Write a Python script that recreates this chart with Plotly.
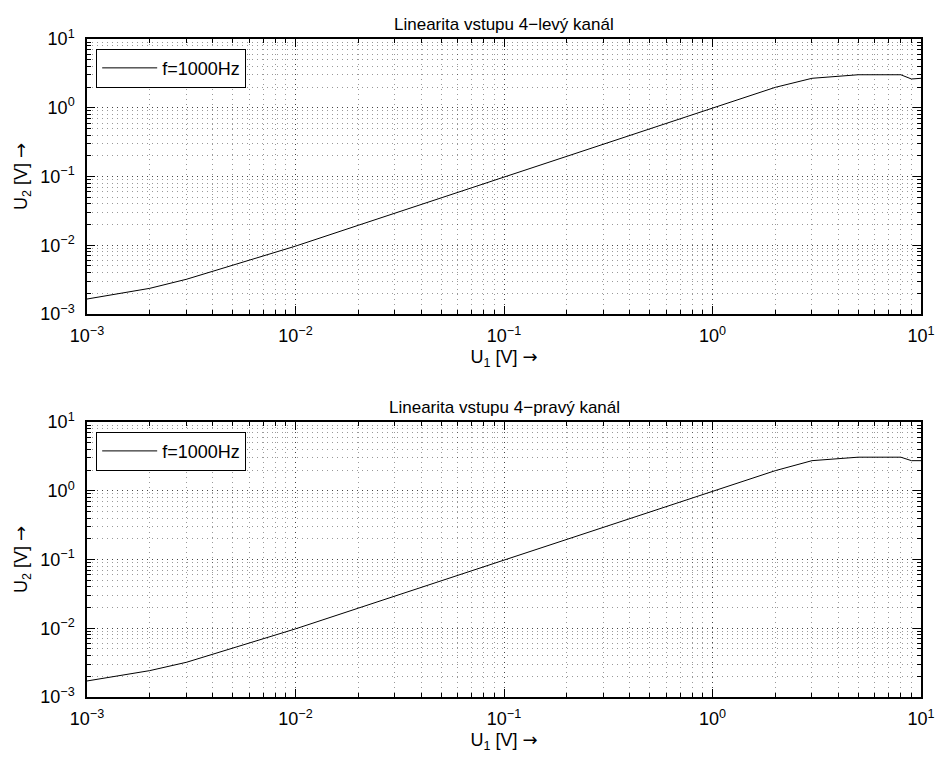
import plotly.graph_objects as go
from plotly.subplots import make_subplots

# Data
u1 = [0.001, 0.002, 0.003, 0.005, 0.01, 0.02, 0.05, 0.1, 0.2, 0.5, 1, 2, 3, 5, 8, 9, 10]
u2_left = [0.00165, 0.00236, 0.0032, 0.0051, 0.0097, 0.0195, 0.049, 0.098, 0.196, 0.49, 0.98, 1.98, 2.68, 3.02, 3.02, 2.62, 2.68]
u2_right = [0.00171, 0.00242, 0.0032, 0.0051, 0.0098, 0.0196, 0.049, 0.098, 0.196, 0.49, 0.98, 1.96, 2.74, 3.08, 3.08, 2.74, 2.74]
titles = ["Linearita vstupu 4\u2212levý kanál", "Linearita vstupu 4\u2212pravý kanál"]
legend_label = "f=1000Hz"
tick_vals = [0.001, 0.01, 0.1, 1, 10]
tick_text = ["10<sup>\u22123</sup>", "10<sup>\u22122</sup>", "10<sup>\u22121</sup>", "10<sup>0</sup>", "10<sup>1</sup>"]

FONT = "Liberation Sans, Arial, Helvetica, sans-serif"
ARROW = '<span style="font-family:DejaVu Sans">\u2192</span>'

fig = make_subplots(rows=2, cols=1, vertical_spacing=0.1642)
fig.add_trace(go.Scatter(x=u1, y=u2_left, mode="lines", name=legend_label,
                         line=dict(color="black", width=1), legend="legend"), row=1, col=1)
fig.add_trace(go.Scatter(x=u1, y=u2_right, mode="lines", name=legend_label,
                         line=dict(color="black", width=1), legend="legend2"), row=2, col=1)

axis_common = dict(
    type="log", tickmode="array", tickvals=tick_vals, ticktext=tick_text,
    ticks="inside", ticklen=8, tickwidth=1, tickcolor="black",
    showline=True, linecolor="black", linewidth=1.5, mirror="ticks",
    showgrid=True, gridcolor="rgba(0,0,0,0.55)", griddash="1px,4px", gridwidth=1,
    minor=dict(dtick="D1", ticks="inside", ticklen=4, tickcolor="black",
               showgrid=True, gridcolor="rgba(0,0,0,0.4)", griddash="1px,4px", gridwidth=1),
    tickfont=dict(family=FONT, size=18, color="black"),
    zeroline=False, automargin=False,
)

for r in (1, 2):
    fig.update_xaxes(range=[-3, 1], title=dict(text="U<sub>1</sub> [V] " + ARROW,
                     font=dict(family=FONT, size=18, color="black"), standoff=0),
                     ticklabelstandoff=5, row=r, col=1, **axis_common)
    fig.update_yaxes(range=[-3, 1], title=dict(text="U<sub>2</sub> [V] " + ARROW,
                     font=dict(family=FONT, size=18, color="black"), standoff=8),
                     ticklabelstandoff=7, row=r, col=1, **axis_common)

fig.update_layout(yaxis=dict(domain=[0.5821, 1.0]), yaxis2=dict(domain=[0.0, 0.4179]))

for i, t in enumerate(titles):
    ypos = 1.0 if i == 0 else 0.4179
    fig.add_annotation(text=t, xref="paper", yref="paper", x=0.5, y=ypos,
                       yanchor="bottom", yshift=3, showarrow=False,
                       font=dict(family=FONT, size=17, color="black"))

leg = dict(x=0.011, xanchor="left", yanchor="top", bgcolor="white", itemwidth=55,
           bordercolor="black", borderwidth=1, font=dict(family=FONT, size=18, color="black"))
fig.update_layout(
    width=937, height=758,
    margin=dict(l=87, r=16, t=39, b=61),
    plot_bgcolor="white", paper_bgcolor="white",
    showlegend=True,
    legend=dict(leg, y=1.0 - 0.0147),
    legend2=dict(leg, y=0.4179 - 0.0147),
    font=dict(family=FONT, color="black"),
)

fig.write_html("out.html")
